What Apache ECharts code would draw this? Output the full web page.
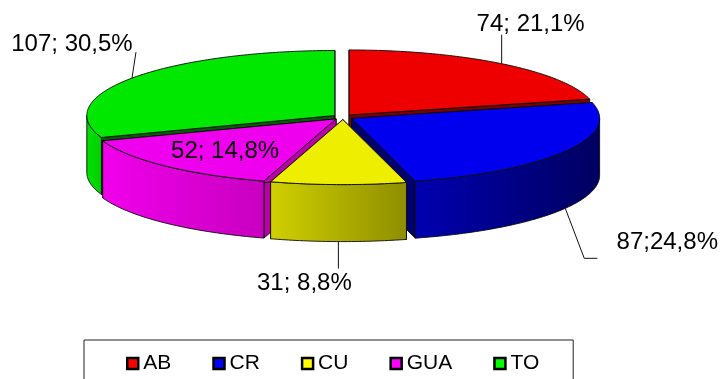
<!DOCTYPE html>
<html><head><meta charset="utf-8">
<style>html,body{margin:0;padding:0;background:#fff}#c{width:720px;height:379px}</style>
<script src="https://cdn.jsdelivr.net/npm/echarts@6/dist/echarts.min.js"></script>
</head><body><div id="c"></div>
<script>
const categories = ['AB','CR','CU','GUA','TO'];
const values = [74,87,31,52,107];
const labels = ['74; 21,1%','87;24,8%','31; 8,8%','52; 14,8%','107; 30,5%'];

const legendColors = ['#ff0000','#0000ff','#ffff00','#ff00ff','#00ff00'];
const topColors = ['#ee0000','#0000ee','#eeee00','#ee00ee','#00e800'];
const radialColors = ['#7a0000','#00006e','#8f8f00','#b800a8','#006000'];
const wallFrom = ['#d00000','#0000b0','#d0d000','#f000ea','#00e000'];
const wallTo = ['#800000','#000060','#8e8e00','#c800c0','#00d000'];
// leader and label layout, relative to each slice's rim anchor
const leaders = [
  [[0,0],[0,-29]],
  [[0,0],[19,50],[32,50]],
  [[0,0],[0,27]],
  null,
  [[0,0],[4,-26]]
];
const labelOffsets = [[29,-39],[102,34],[-34,42],[60,-15],[-60,-34]];

const CX=343, CY=117, RX=248, RY=65, DEPTH=57, EX=10, EY=2.6;
const total = values.reduce((a,b)=>a+b,0);
const starts = []; let acc = 0;
values.forEach(v=>{starts.push(acc/total*2*Math.PI); acc+=v;});
const mids = values.map((v,i)=>starts[i]+v/total*Math.PI);
const order = mids.map((m,i)=>[Math.cos(m),i]).sort((a,b)=>b[0]-a[0]).map(x=>x[1]);

function slice(i){
  const a0 = starts[i], a1 = a0+values[i]/total*2*Math.PI, mid = mids[i];
  const cx = CX+EX*Math.sin(mid), cy = CY-EY*Math.cos(mid);
  const P = (t,d)=>[cx+RX*Math.sin(t), cy-RY*Math.cos(t)+(d||0)];
  const arc = (p,q,d)=>{
    const n = Math.max(2,Math.ceil((q-p)/0.015)); const r=[];
    for(let k=0;k<=n;k++) r.push(P(p+(q-p)*k/n,d));
    return r;
  };
  const stroke = {stroke:'#0a0a0a',lineWidth:0.9,lineJoin:'round'};
  const poly = (pts,fill)=>({type:'polygon',silent:true,shape:{points:pts},style:Object.assign({fill},stroke)});
  const tip=[cx,cy], tipB=[cx,cy+DEPTH];
  const kids = [];
  [a0,a1].forEach(t=>kids.push(poly([tip,P(t),P(t,DEPTH),tipB],radialColors[i])));
  const wa=Math.max(a0,Math.PI/2), wb=Math.min(a1,Math.PI*1.5);
  if(wb>wa){
    const grad = new echarts.graphic.LinearGradient(0,0,1,0,[{offset:0,color:wallFrom[i]},{offset:1,color:wallTo[i]}]);
    kids.push(poly(arc(wa,wb,0).concat(arc(wa,wb,DEPTH).reverse()),grad));
  }
  kids.push(poly([tip].concat(arc(a0,a1,0)),topColors[i]));
  // anchor of leader on rim
  const front = Math.cos(mid)<0 && Math.sin(mid)>-0.5 ? DEPTH : 0;
  const an = P(mid,(i===3)?0:front);
  if(leaders[i]){
    kids.push({type:'polyline',silent:true,shape:{points:leaders[i].map(p=>[an[0]+p[0],an[1]+p[1]])},
      style:{fill:null,stroke:'#111',lineWidth:1}});
  }
  const o = labelOffsets[i];
  kids.push({type:'text',silent:true,z2:5,style:{text:labels[i],x:an[0]+o[0],y:an[1]+o[1],
    font:'24px "Liberation Sans", Arial, sans-serif',fill:'#000',textAlign:'center',textVerticalAlign:'middle'}});
  return {type:'group',children:kids};
}

const chart = echarts.init(document.getElementById('c'),null,{renderer:'canvas'});
chart.setOption({
  animation:false,
  backgroundColor:'#fff',
  legend:{
    left:84, top:340, orient:'horizontal', selectedMode:false,
    data:categories, icon:'rect', itemWidth:11, itemHeight:11, itemGap:41,
    padding:[13,34,30,42], borderColor:'#222', borderWidth:1,
    textStyle:{fontFamily:'"Liberation Sans", Arial, sans-serif',fontSize:21,color:'#000'},
    itemStyle:{borderColor:'#000',borderWidth:2.5}
  },
  series:categories.map((name,i)=>({
    type:'custom', name, coordinateSystem:'none', z:2+order.indexOf(i),
    itemStyle:{color:legendColors[i]},
    data:[values[i]],
    renderItem:()=>slice(i)
  }))
});
</script></body></html>
